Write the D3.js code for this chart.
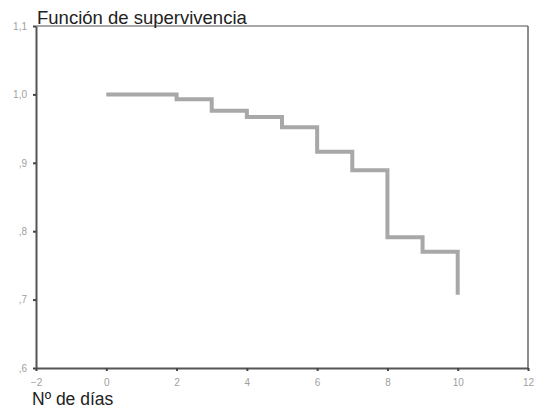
<!DOCTYPE html>
<html>
<head>
<meta charset="utf-8">
<script src="https://cdn.jsdelivr.net/npm/d3@7"></script>
<style>
  body { margin: 0; background: #fff; }
  svg { display: block; font-family: "Liberation Sans", Arial, sans-serif; }
</style>
</head>
<body>
<div id="chart"></div>
<script>
// survival steps
const days = [0, 2, 3, 4, 5, 6, 7, 8, 9, 10];
const survival = [1.0, 0.993, 0.976, 0.967, 0.952, 0.916, 0.889, 0.791, 0.770, 0.707];
const xTicks = [-2, 0, 2, 4, 6, 8, 10, 12];
const yTicks = [0.6, 0.7, 0.8, 0.9, 1.0, 1.1];
const yLabels = [",6", ",7", ",8", ",9", "1,0", "1,1"];

const width = 537, height = 410;
const margin = {top: 26, right: 9, bottom: 42, left: 36};

const svg = d3.select("#chart").append("svg")
    .attr("width", width)
    .attr("height", height);

const x = d3.scaleLinear().domain([-2, 12]).range([margin.left, width - margin.right]);
const y = d3.scaleLinear().domain([0.6, 1.1]).range([height - margin.bottom, margin.top]);

// frame: top and right lighter
svg.append("line")
    .attr("x1", x(-2)).attr("x2", x(12))
    .attr("y1", y(1.1)).attr("y2", y(1.1))
    .attr("stroke", "#8a8a8a").attr("stroke-width", 1.5);
svg.append("line")
    .attr("x1", x(12)).attr("x2", x(12))
    .attr("y1", y(1.1)).attr("y2", y(0.6))
    .attr("stroke", "#666").attr("stroke-width", 1.5);

// step line
const pts = [];
days.forEach((d, i) => {
    if (i > 0) pts.push([d, survival[i - 1]]);
    pts.push([d, survival[i]]);
});
svg.append("path")
    .datum(pts)
    .attr("fill", "none")
    .attr("stroke", "#a8a8a8")
    .attr("stroke-width", 4)
    .attr("d", d3.line().x(d => x(d[0])).y(d => y(d[1])));

// axes
const xAxis = svg.append("g")
    .attr("transform", `translate(0,${y(0.6)})`)
    .call(d3.axisBottom(x).tickValues(xTicks).tickSize(3).tickPadding(8).tickSizeOuter(0));
const yAxis = svg.append("g")
    .attr("transform", `translate(${x(-2)},0)`)
    .call(d3.axisLeft(y).tickValues(yTicks).tickSize(3).tickPadding(6).tickSizeOuter(0)
        .tickFormat((d, i) => yLabels[i]));

[xAxis, yAxis].forEach(g => {
    g.select(".domain").attr("stroke", "#555").attr("stroke-width", 2);
    g.selectAll(".tick line").attr("stroke", "#444").attr("stroke-width", 2);
    g.selectAll(".tick text").attr("fill", "#a0a0a0").style("font-size", "10px")
        .style("font-family", "\"Liberation Sans\", Arial, sans-serif");
});

// titles
svg.append("text")
    .attr("x", 37).attr("y", 24)
    .attr("fill", "#222")
    .style("font-size", "18.5px")
    .text("Función de supervivencia");
svg.append("text")
    .attr("x", 32).attr("y", 405)
    .attr("fill", "#222")
    .style("font-size", "17.5px")
    .text("Nº de días");
</script>
</body>
</html>
